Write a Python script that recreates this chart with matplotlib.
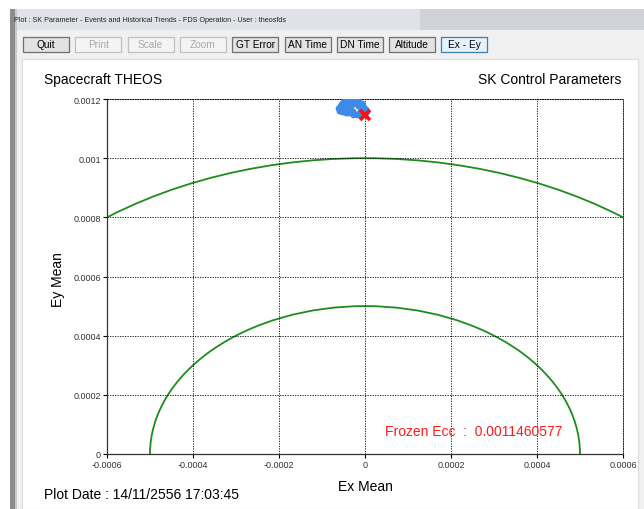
import matplotlib
matplotlib.use('Agg')
import matplotlib.pyplot as plt
from matplotlib.patches import Rectangle, Arc

plt.rcParams['font.family'] = ['Liberation Sans', 'DejaVu Sans']

# ---- data ----
ex_mean = [-6.0, -5.8, -5.5, -5.2, -4.9, -4.5, -4.1, -3.7, -3.3, -2.9, -2.5, -2.1, -1.7, -1.3,
           -0.9, -0.5, -0.2, 0.2, 0.4, 0.3, 0.0, -0.4, -0.9, -1.4, -1.9, -2.4, -2.9, -3.4, -3.9,
           -4.4, -4.9, -5.4, -5.8, -4.6, -3.8, -5.0, -4.2, -3.4, -2.6, -1.8, -1.0, -0.4, -5.6,
           -3.2, -4.0, -0.6, -1.2, -5.3, -4.7, -3.6, -1.1, -6.2, -2.8,
           -5.1, -4.4, -3.7, -3.0, -4.8, -4.1, -3.4, -2.7, -1.5, -0.8, -5.5, -4.5, -3.5, -2.5,
           -1.6, -0.9, -0.3, -6.1, -5.7, -2.2, -1.3, -0.1]
ey_mean = [116.5, 117.5, 118.4, 119.0, 119.4, 119.7, 119.8, 119.9, 119.9, 119.8, 119.7, 119.5,
           119.2, 118.8, 118.3, 117.8, 117.2, 116.6, 116.0, 115.4, 114.9, 114.6, 114.4, 114.5,
           114.7, 114.9, 115.1, 115.2, 115.3, 115.4, 115.5, 115.7, 116.0, 116.6, 116.8, 117.6,
           118.2, 118.6, 118.6, 118.2, 117.6, 116.6, 117.0, 117.6, 115.9, 115.6, 115.2, 118.7,
           117.9, 118.9, 116.1, 117.1, 114.6,
           117.0, 117.3, 117.6, 117.9, 116.2, 116.4, 116.1, 115.8, 118.9, 118.7, 116.0, 115.9,
           115.5, 119.2, 117.8, 117.1, 116.4, 115.9, 117.8, 119.3, 115.1, 116.3]
ex_mean = [v * 1e-5 for v in ex_mean]
ey_mean = [v * 1e-5 for v in ey_mean]
frozen_ex, frozen_ey = 0.0, 0.0011460577
limit_radii = [0.001, 0.0005]

x_ticks = [-0.0006, -0.0004, -0.0002, 0, 0.0002, 0.0004, 0.0006]
x_labels = ['-0.0006', '-0.0004', '-0.0002', '0', '0.0002', '0.0004', '0.0006']
y_ticks = [0, 0.0002, 0.0004, 0.0006, 0.0008, 0.001, 0.0012]
y_labels = ['0', '0.0002', '0.0004', '0.0006', '0.0008', '0.001', '0.0012']

buttons = ['Quit', 'Print', 'Scale', 'Zoom', 'GT Error', 'AN Time', 'DN Time', 'Altitude', 'Ex - Ey']
disabled = ['Print', 'Scale', 'Zoom']

W, H = 644, 510
fig = plt.figure(figsize=(W / 100, H / 100), dpi=100)

def box(x0, y0, x1, y1, **kw):
    fig.add_artist(Rectangle((x0 / W, 1 - y1 / H), (x1 - x0) / W, (y1 - y0) / H,
                             transform=fig.transFigure, zorder=-10, **kw))

def ftext(x, y, s, **kw):
    fig.text(x / W, 1 - y / H, s, **kw)

# window chrome
box(10, 10, 644, 510, facecolor='#f0f0f0', edgecolor='none')
box(10, 10, 644, 31, facecolor='#dfe3e8', edgecolor='none')
box(420, 10, 644, 31, facecolor='#cfd2d6', edgecolor='none')
box(10, 10, 15, 510, facecolor='#8c8c8c', edgecolor='none')
box(15, 10, 17, 510, facecolor='#c8c8c8', edgecolor='none')
box(22, 60, 638, 510, facecolor='white', edgecolor='#dcdcdc', lw=0.8)
ftext(14, 20, 'Plot : SK Parameter - Events and Historical Trends - FDS Operation - User : theosfds',
      fontsize=5.2, color='#222222', va='center')

for i, name in enumerate(buttons):
    x0 = 23 + i * 52.3
    if name in disabled:
        fc, ec, tc = '#f4f4f4', '#c0c0c0', '#a8a8a8'
    elif name == 'Ex - Ey':
        fc, ec, tc = '#e5f1fb', '#3c7fb1', 'black'
    else:
        fc, ec, tc = '#e2e2e2', '#707070', 'black'
    box(x0, 38, x0 + 46, 53, facecolor=fc, edgecolor=ec, lw=0.9)
    ftext(x0 + 23, 45.5, name, fontsize=7.3, color=tc, ha='center', va='center')

# plot area
ax = fig.add_axes([107 / W, 1 - 455 / H, 516 / W, 355 / H])
ax.set_facecolor('none')
for r in limit_radii:
    ax.add_patch(Arc((0, 0), 2 * r, 2 * r, theta1=0, theta2=180, color='#1e8c1e', lw=1.3))
ax.plot(ex_mean, ey_mean, 'o', color='#3d8ae8', markersize=4.2, markeredgewidth=0, zorder=3)
ax.plot(frozen_ex, frozen_ey, 'x', color='#ff1010', markersize=7, markeredgewidth=2.6, zorder=4)

ax.set_xlim(-0.0006, 0.0006)
ax.set_ylim(0, 0.0012)
ax.set_xticks(x_ticks, x_labels)
ax.set_yticks(y_ticks, y_labels)
ax.tick_params(labelsize=6.5, labelcolor='#333333', length=3, width=0.8, pad=1.5)
ax.grid(True, color='black', linestyle=(0, (1.5, 1.5)), linewidth=0.6)
for s in ['top', 'right']:
    ax.spines[s].set_linestyle((0, (1.5, 1.5)))
    ax.spines[s].set_linewidth(0.6)
for s in ['left', 'bottom']:
    ax.spines[s].set_linewidth(0.9)
    ax.spines[s].set_color('#333333')

ftext(44, 80, 'Spacecraft THEOS', fontsize=10, va='center')
ftext(621, 80, 'SK Control Parameters', fontsize=10, va='center', ha='right')
ftext(58, 280, 'Ey Mean', fontsize=10, va='center', ha='center', rotation=90)
ftext(365, 487, 'Ex Mean', fontsize=10, va='center', ha='center')
ftext(44, 495, 'Plot Date : 14/11/2556 17:03:45', fontsize=10, va='center')
ftext(385, 432, 'Frozen Ecc  :  0.0011460577', fontsize=10, va='center', color='#ff1a1a')

fig.savefig('out.png', dpi=100)
